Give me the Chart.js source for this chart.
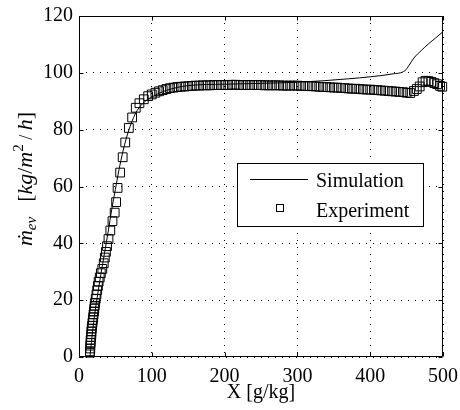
<!DOCTYPE html>
<html><head><meta charset="utf-8">
<script src="https://cdn.jsdelivr.net/npm/chart.js@4.4.0/dist/chart.umd.min.js"></script>
<style>html,body{margin:0;padding:0;background:#fff}</style>
</head><body>
<canvas id="c" width="460" height="410"></canvas>
<script>
const seriesLabels = ['Simulation', 'Experiment'];
const xTicks = [0, 100, 200, 300, 400, 500];
const yTicks = [0, 20, 40, 60, 80, 100, 120];

const simX = [15, 17, 20, 25, 30, 35, 40, 45, 50, 55, 60, 65, 70, 75, 80, 90, 100, 120, 150, 200, 250, 300, 335, 370, 400, 430, 448, 453, 460, 470, 480, 490, 500];
const simY = [0, 5, 12, 21, 29, 36.5, 44, 52, 59, 66, 72, 77, 81, 84.3, 86.8, 89.8, 91.5, 93.8, 95.5, 96.0, 96.3, 96.7, 97.2, 97.9, 98.6, 99.6, 100.8, 102.5, 105.2, 107.8, 110.2, 112.3, 114.5];

const expX = [15, 15, 15.5, 15.5, 16, 16, 16.5, 17, 17, 17.5, 18, 18.5, 19, 19.5, 20, 20.5, 21, 21.5, 22, 23, 24, 25, 26, 27, 28.5, 30, 32, 34, 35.5, 37, 38.5, 40.5, 43, 46, 49, 51, 53, 56.5, 60, 63.5, 68.5, 73, 78, 83, 89, 95,
  100, 105, 110, 115, 120, 125, 130, 135, 140, 145, 150, 155, 160, 165, 170, 175, 180, 185, 190, 195, 200, 205, 210, 215, 220, 225, 230, 235, 240, 245, 250, 255, 260, 265, 270, 275, 280, 285, 290, 295, 300, 305, 310, 315, 320, 325, 330, 335, 340, 345, 350, 355, 360, 365, 370, 375, 380, 385, 390, 395, 400, 405, 410, 415, 420, 425, 430, 435, 440, 445, 450, 455, 460, 464, 468, 472, 476, 480, 484, 488, 492, 496, 499];
const expY = [1.5, 2, 3, 4, 5, 6, 7, 8, 9, 10, 11, 12, 13, 14, 15, 16, 17, 18, 19, 20.5, 22, 23.5, 25, 26.5, 28, 29.5, 31, 33, 35, 37, 39, 41.5, 44.5, 47.8, 50.8, 54.5, 59.5, 64.9, 70.3, 75.5, 80.6, 84.3, 87.7, 89.3, 90.7, 91.8,
  92.4, 93.0, 93.5, 93.9, 94.3, 94.6, 94.8, 95.0, 95.1, 95.2, 95.3, 95.4, 95.5, 95.5, 95.6, 95.6, 95.6, 95.7, 95.7, 95.7, 95.7, 95.7, 95.8, 95.8, 95.7, 95.7, 95.7, 95.7, 95.7, 95.7, 95.7, 95.6, 95.6, 95.6, 95.6, 95.6, 95.5, 95.5, 95.5, 95.5, 95.5, 95.4, 95.4, 95.3, 95.3, 95.2, 95.1, 95.0, 95.0, 94.9, 94.8, 94.8, 94.7, 94.6, 94.5, 94.4, 94.4, 94.3, 94.2, 94.1, 94.1, 94.0, 93.9, 93.8, 93.7, 93.6, 93.5, 93.4, 93.3, 93.2, 93.0, 92.9, 93.6, 94.3, 95.2, 96.7, 97.2, 97.1, 96.8, 96.4, 96.0, 95.4, 95.1];

const FONT = '"Liberation Serif", "Times New Roman", serif';

const boxPlugin = {
  id: 'boxTicks',
  afterDatasetsDraw(chart) {
    const {ctx, chartArea: a, scales} = chart;
    ctx.save();
    ctx.strokeStyle = '#000';
    ctx.lineWidth = 1;
    const L = Math.round(a.left) + 0.5, R = Math.round(a.right) - 0.5;
    const T = Math.round(a.top) + 0.5, B = Math.round(a.bottom) - 0.5;
    ctx.beginPath();
    ctx.rect(L, T, R - L, B - T);
    const tl = 4;
    xTicks.forEach(v => {
      const x = Math.round(scales.x.getPixelForValue(v)) + 0.5;
      ctx.moveTo(x, B); ctx.lineTo(x, B - tl);
      ctx.moveTo(x, T); ctx.lineTo(x, T + tl);
    });
    yTicks.forEach(v => {
      const y = Math.round(scales.y.getPixelForValue(v)) + 0.5;
      ctx.moveTo(L, y); ctx.lineTo(L + tl, y);
      ctx.moveTo(R, y); ctx.lineTo(R - tl, y);
    });
    ctx.stroke();
    ctx.restore();
  }
};

const yTitlePlugin = {
  id: 'yTitle',
  afterDraw(chart) {
    const ctx = chart.ctx;
    const segs = [
      {t: '\u1E41', f: 'italic 22px ' + FONT, dy: 0},
      {t: 'ev', f: 'italic 15px ' + FONT, dy: 4},
      {t: '   ', f: '20px ' + FONT, dy: 0},
      {t: '[', f: '22px ' + FONT, dy: 0},
      {t: 'kg', f: 'italic 22px ' + FONT, dy: 0},
      {t: '/', f: '22px ' + FONT, dy: 0},
      {t: 'm', f: 'italic 22px ' + FONT, dy: 0},
      {t: '2', f: '15px ' + FONT, dy: -9},
      {t: ' / ', f: '18px ' + FONT, dy: 0},
      {t: 'h', f: 'italic 22px ' + FONT, dy: 0},
      {t: ']', f: '22px ' + FONT, dy: 0}
    ];
    ctx.save();
    let total = 0;
    segs.forEach(s => { ctx.font = s.f; s.w = ctx.measureText(s.t).width; total += s.w; });
    ctx.translate(32, 179);
    ctx.rotate(-Math.PI / 2);
    ctx.fillStyle = '#000';
    ctx.textBaseline = 'alphabetic';
    ctx.textAlign = 'left';
    let x = -total / 2;
    segs.forEach(s => { ctx.font = s.f; ctx.fillText(s.t, x, s.dy); x += s.w; });
    ctx.restore();
  }
};

const legendPlugin = {
  id: 'boxLegend',
  afterDraw(chart) {
    const ctx = chart.ctx;
    ctx.save();
    const bx = 237.5, by = 163.5, bw = 186, bh = 63;
    ctx.fillStyle = '#fff';
    ctx.fillRect(bx, by, bw, bh);
    ctx.strokeStyle = '#000';
    ctx.lineWidth = 1;
    ctx.strokeRect(bx, by, bw, bh);
    ctx.beginPath();
    ctx.moveTo(250, 179.5); ctx.lineTo(308, 179.5);
    ctx.stroke();
    ctx.strokeRect(276.5, 204.5, 7, 7);
    ctx.fillStyle = '#000';
    ctx.font = '20px ' + FONT;
    ctx.textBaseline = 'alphabetic';
    ctx.textAlign = 'left';
    ctx.fillText(chart.data.datasets[0].label, 316, 187);
    ctx.fillText(chart.data.datasets[1].label, 316, 217);
    ctx.restore();
  }
};

const tickFont = {family: FONT, size: 20};
const zeroPad = s => { s.paddingLeft = 0; s.paddingRight = 0; s.paddingTop = 0; s.paddingBottom = 0; };

new Chart(document.getElementById('c'), {
  type: 'scatter',
  data: {
    datasets: [
      {
        label: seriesLabels[0],
        data: simX.map((x, i) => ({x, y: simY[i]})),
        showLine: true,
        borderColor: '#000',
        borderWidth: 1,
        pointRadius: 0,
        fill: false,
        cubicInterpolationMode: 'monotone',
        order: 1
      },
      {
        label: seriesLabels[1],
        data: expX.map((x, i) => ({x, y: expY[i]})),
        showLine: false,
        pointStyle: 'rect',
        pointRadius: 6.2,
        pointBorderWidth: 1,
        borderColor: '#000',
        pointBorderColor: '#000',
        backgroundColor: 'rgba(0,0,0,0)',
        pointBackgroundColor: 'rgba(0,0,0,0)',
        clip: false,
        order: 0
      }
    ]
  },
  options: {
    responsive: false,
    animation: false,
    devicePixelRatio: 1,
    layout: {padding: {top: 16, right: 17, bottom: 0, left: 0}},
    plugins: {legend: {display: false}, tooltip: {enabled: false}},
    scales: {
      x: {
        type: 'linear', position: 'bottom', min: 0, max: 500,
        afterBuildTicks: s => { s.ticks = xTicks.map(v => ({value: v})); },
        afterFit: s => { s.height = 53; zeroPad(s); },
        grid: {color: '#000', lineWidth: 1, drawTicks: false, tickLength: 0},
        border: {display: false, dash: [1, 6]},
        ticks: {font: tickFont, color: '#000', padding: 8, maxRotation: 0, autoSkip: false},
        title: {display: true, text: 'X [g/kg]', font: tickFont, color: '#000', padding: {top: 0, bottom: 5}}
      },
      y: {
        type: 'linear', position: 'left', min: 0, max: 120,
        afterBuildTicks: s => { s.ticks = yTicks.map(v => ({value: v})); },
        afterFit: s => { s.width = 79; zeroPad(s); },
        grid: {color: '#000', lineWidth: 1, drawTicks: false, tickLength: 0},
        border: {display: false, dash: [1, 6]},
        ticks: {font: tickFont, color: '#000', padding: 6, autoSkip: false}
      }
    }
  },
  plugins: [boxPlugin, yTitlePlugin, legendPlugin]
});
</script>
</body></html>
